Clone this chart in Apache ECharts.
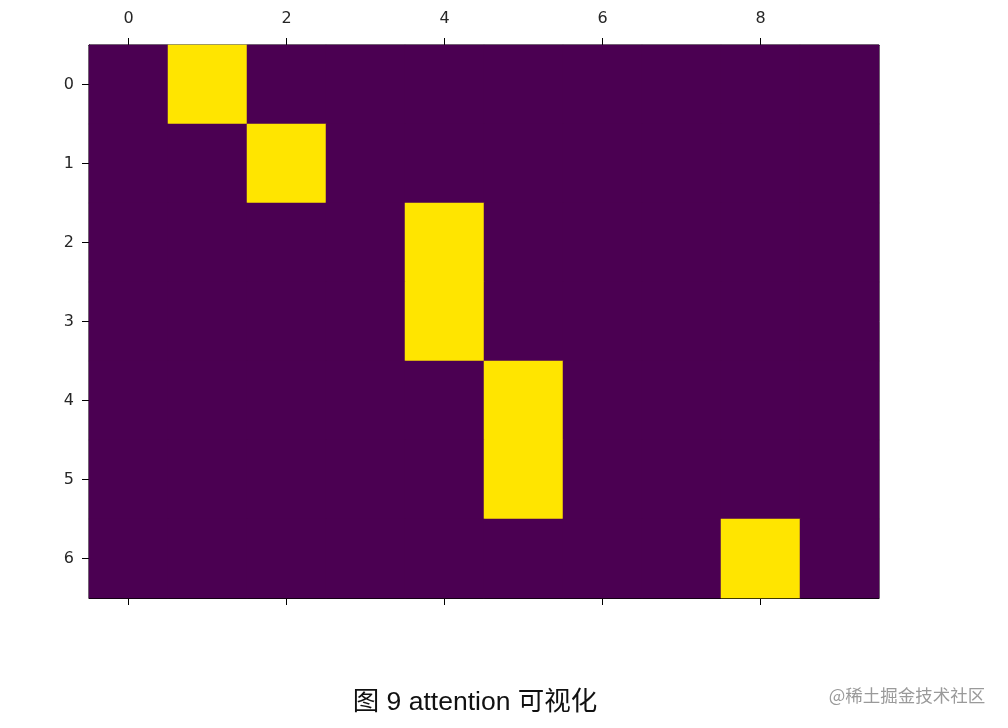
<!DOCTYPE html>
<html>
<head>
<meta charset="utf-8">
<script src="https://cdn.jsdelivr.net/npm/echarts@6/dist/echarts.min.js"></script>
<style>html,body{margin:0;padding:0;background:#fff;}#c{width:1008px;height:728px;}</style>
</head>
<body>
<div id="c"></div>
<script>
const xCategories = ['0','1','2','3','4','5','6','7','8','9'];
const yCategories = ['0','1','2','3','4','5','6'];
const attention = [
  [0,1,0,0,0,0,0,0,0,0],
  [0,0,1,0,0,0,0,0,0,0],
  [0,0,0,0,1,0,0,0,0,0],
  [0,0,0,0,1,0,0,0,0,0],
  [0,0,0,0,0,1,0,0,0,0],
  [0,0,0,0,0,1,0,0,0,0],
  [0,0,0,0,0,0,0,0,1,0]
];
const caption = '图 9 attention 可视化';
const watermark = '@稀土掘金技术社区';

const data = [];
attention.forEach((row, r) => row.forEach((v, c) => data.push([c, r, v])));

const chart = echarts.init(document.getElementById('c'), null, {renderer: 'canvas'});
const tickFont = {fontFamily: 'DejaVu Sans', fontSize: 16, color: '#262626'};
chart.setOption({
  animation: false,
  grid: {left: 89, top: 45, width: 790, height: 553, show: true, borderColor: '#000', borderWidth: 1, backgroundColor: 'transparent'},
  xAxis: [{
    type: 'category', data: xCategories, position: 'top',
    axisLine: {show: true, lineStyle: {color: '#000', width: 1}},
    axisTick: {show: true, alignWithLabel: true, interval: 1, length: 7, lineStyle: {color: '#000'}},
    axisLabel: Object.assign({interval: 1, margin: 18}, tickFont),
    splitLine: {show: false}
  }, {
    type: 'category', data: xCategories, position: 'bottom',
    axisLine: {show: true, lineStyle: {color: '#000', width: 1}},
    axisTick: {show: true, alignWithLabel: true, interval: 1, length: 7, lineStyle: {color: '#000'}},
    axisLabel: {show: false},
    splitLine: {show: false}
  }],
  yAxis: {
    type: 'category', data: yCategories, inverse: true,
    axisLine: {show: true, lineStyle: {color: '#000', width: 1}},
    axisTick: {show: true, alignWithLabel: true, length: 7, lineStyle: {color: '#000'}},
    axisLabel: Object.assign({margin: 15}, tickFont),
    splitLine: {show: false}
  },
  visualMap: {show: false, min: 0, max: 1, dimension: 2, inRange: {color: ['#4b0052', '#ffe500']}},
  series: [{
    type: 'heatmap', xAxisIndex: 0, yAxisIndex: 0, data: data,
    itemStyle: {borderWidth: 0},
    emphasis: {disabled: true}
  }],
  graphic: [
    {type: 'text', x: 475, y: 703, style: {text: caption, align: 'center', verticalAlign: 'middle', font: '26.5px "Liberation Sans", "Noto Sans CJK SC", sans-serif', fill: '#111'}},
    {type: 'text', x: 907, y: 695, style: {text: watermark, align: 'center', verticalAlign: 'middle', font: '17.5px "Noto Sans CJK SC", sans-serif', fill: '#9a9a9a'}}
  ]
});
</script>
</body>
</html>
